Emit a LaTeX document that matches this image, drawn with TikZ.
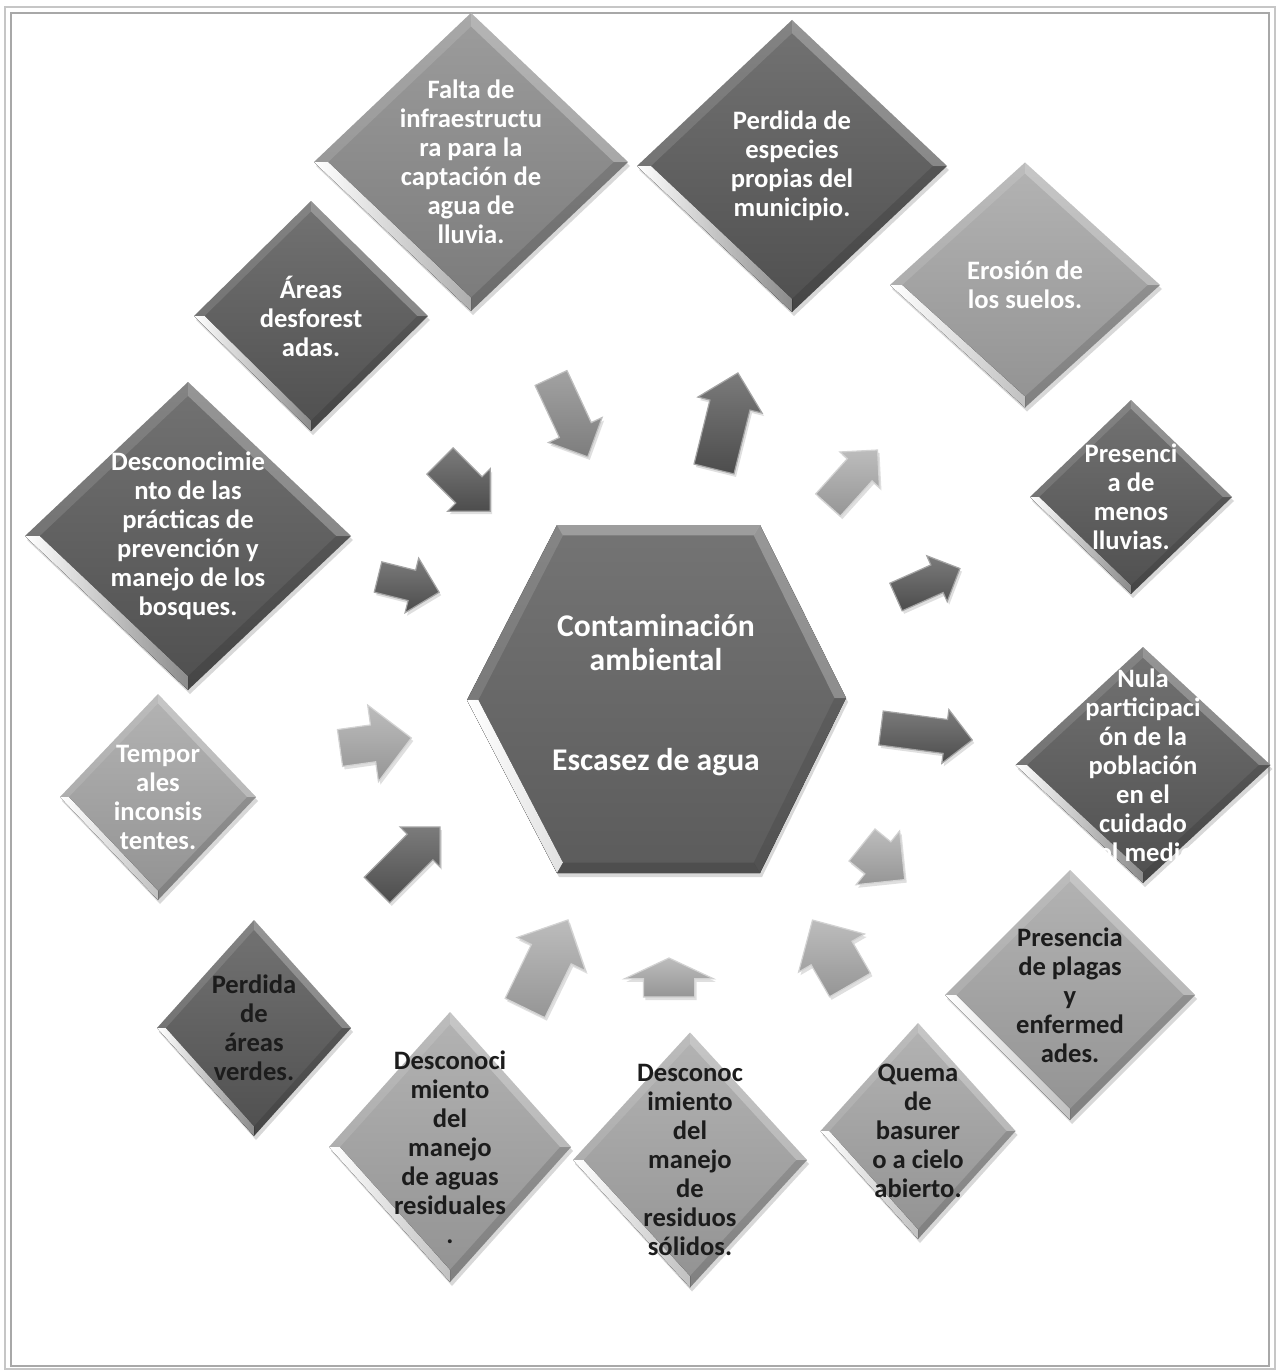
\documentclass[tikz,border=0pt]{standalone}
\usepackage{fontspec}
\setmainfont{Carlito}
\usetikzlibrary{calc,shapes.geometric,shapes.arrows,shadows}

\definecolor{oscuro}{HTML}{5A5A5A}
\definecolor{medio}{HTML}{8B8B8B}
\definecolor{claro}{HTML}{A6A6A6}
\definecolor{grishexa}{HTML}{686868}
\definecolor{marco}{HTML}{C6C6C6}
\definecolor{tinta}{HTML}{1C1C1C}

\tikzset{
	rombo/.style={diamond, inner sep=0pt, outer sep=0pt, drop shadow={opacity=.3, shadow xshift=1pt, shadow yshift=-2pt}},
	txtrombo/.style={align=center, inner sep=0pt, font=\fontsize{13.3}{14.5}\selectfont\bfseries},
	txthexa/.style={align=center, inner sep=0pt, text=white, font=\fontsize{15.8}{17}\selectfont\bfseries},
	flecha/.style={single arrow, inner xsep=0pt, minimum width=0pt, outer sep=0pt, line width=.6pt, drop shadow={opacity=.25, shadow xshift=1pt, shadow yshift=-1.5pt}},
	fosc/.style={top color=oscuro!80!white, bottom color=oscuro!85!black, draw=oscuro!55!white},
	fmed/.style={top color=medio!80!white, bottom color=medio!90!black, draw=medio!55!white},
	fcla/.style={top color=claro!75!white, bottom color=claro!90!black, draw=claro!50!white},
}

\def\rombo[#1/#2](#3)(#4:#5:#6)#7{
	\node[rombo, minimum width=#5, minimum height=#6, top color=#1!85!white, bottom color=#1!88!black] (#3) at (#4) {};
	\fill[left color=white, right color=#1!70!white] (#3.west) -- (#3.south) -- ($(#3.south)!.09!(#3.center)$) -- ($(#3.west)!.09!(#3.center)$) -- cycle;
	\fill[white, opacity=.12] (#3.west) -- (#3.north) -- ($(#3.north)!.09!(#3.center)$) -- ($(#3.west)!.09!(#3.center)$) -- cycle;
	\fill[white, opacity=.25] (#3.north) -- (#3.east) -- ($(#3.east)!.09!(#3.center)$) -- ($(#3.north)!.09!(#3.center)$) -- cycle;
	\fill[black, opacity=.12] (#3.east) -- (#3.south) -- ($(#3.south)!.09!(#3.center)$) -- ($(#3.east)!.09!(#3.center)$) -- cycle;
	\node[txtrombo, text=#2] (#3-txt) at (#3.center) {#7};
}
\def\flecha[#1](#2)(#3:#4:#5:#6:#7){\node[flecha, #1, anchor=tail, rotate=#4, minimum height=#5, inner ysep=#6, single arrow head extend=#7] (#2) at (#3) {};}

\begin{document}
\begin{tikzpicture}[x=0.5pt, y=-0.5pt]
			%%%%% START %%%%%
			
			\useasboundingbox (0,0) rectangle (1277,1370);
			\fill[white] (0,0) rectangle (1277,1370);
			
			\draw[marco, line width=1pt] (5,7) rectangle (1275,1369);
			\draw[marco!85!black, line width=1pt] (11,13) rectangle (1269,1366);
			
			% hexagono central
			\coordinate (hc) at (656,699);
			\coordinate (h1) at (467,700);
			\coordinate (h2) at (557,525);
			\coordinate (h3) at (760,525);
			\coordinate (h4) at (846,698);
			\coordinate (h5) at (760,873);
			\coordinate (h6) at (557,873);
			\foreach \i in {1,...,6} \coordinate (g\i) at ($(hc)!.94!(h\i)$);
			
			\fill[top color=grishexa!92!white, bottom color=grishexa!88!black, drop shadow={opacity=.3, shadow xshift=1pt, shadow yshift=-2pt}] (h1) -- (h2) -- (h3) -- (h4) -- (h5) -- (h6) -- cycle;
			\fill[left color=white, right color=white!80!grishexa] (h6) -- (h1) -- (g1) -- (g6) -- cycle;
			\fill[white, opacity=.12] (h1) -- (h2) -- (g2) -- (g1) -- cycle;
			\fill[white, opacity=.3] (h2) -- (h3) -- (g3) -- (g2) -- cycle;
			\fill[white, opacity=.25] (h3) -- (h4) -- (g4) -- (g3) -- cycle;
			\fill[black, opacity=.1] (h4) -- (h5) -- (g5) -- (g4) -- cycle;
			\fill[black, opacity=.15] (h5) -- (h6) -- (g6) -- (g5) -- cycle;
			\node[txthexa] (hexa-txt) at (656,695) {Contaminación\\ambiental\\[33pt]Escasez de agua};
			
			% rombos
			\rombo[medio/white](falta)(471,162:157pt:149pt){Falta de\\infraestructu\\ra para la\\captación de\\agua de\\lluvia.}
			\rombo[oscuro/white](especies)(792,166:155pt:146pt){Perdida de\\especies\\propias del\\municipio.}
			\rombo[claro/white](erosion)(1025,285:135pt:122.5pt){Erosión de\\los suelos.}
			\rombo[oscuro/white](lluvias)(1131,497:101pt:97pt){Presenci\\a de\\menos\\lluvias.}
			\rombo[oscuro/white](nula)(1143,765:127.5pt:118pt){Nula\\participaci\\ón de la\\población\\en el\\cuidado\\del medio.}
			\rombo[claro/tinta](plagas)(1070,995:125pt:125pt){Presencia\\de plagas\\y\\enfermed\\ades.}
			\rombo[claro/tinta](quema)(918,1131:97.5pt:108pt){Quema\\de\\basurer\\o a cielo\\abierto.}
			\rombo[claro/tinta](solidos)(690,1160:117pt:127.5pt){Desconoc\\imiento\\del\\manejo\\de\\residuos\\sólidos.}
			\rombo[claro/tinta](aguas)(450,1147:121pt:135pt){Desconoci\\miento\\del\\manejo\\de aguas\\residuales\\.}
			\rombo[oscuro/tinta](verdes)(254,1028:97pt:108pt){Perdida\\de\\áreas\\verdes.}
			\rombo[claro/white](temporales)(158,797:98pt:103pt){Tempor\\ales\\inconsis\\tentes.}
			\rombo[oscuro/white](practicas)(188,536:163pt:154pt){Desconocimie\\nto de las\\prácticas de\\prevención y\\manejo de los\\bosques.}
			\rombo[oscuro/white](desforestadas)(311,316:117pt:115pt){Áreas\\desforest\\adas.}
			
			% flechas
			\flecha[fmed](fa)(551,378:-65:43.5pt:8.5pt:6pt)
			\flecha[fosc](fb)(440,461:-45:35.5pt:9pt:5.75pt)
			\flecha[fosc](fc)(378,577:-14:31.5pt:7.5pt:6.25pt)
			\flecha[fcla](fd)(340,748:8:36pt:9pt:10pt)
			\flecha[fosc](fe)(377,890:45:44.5pt:8.75pt:5pt)
			\flecha[fcla](ff)(525,1008:64:49pt:10.75pt:8pt)
			\flecha[fcla, single arrow tip angle=130](fg)(669,997:90:19.5pt:12.5pt:9.5pt)
			\flecha[fcla](fh)(850,985:120:37.5pt:11.5pt:7.25pt)
			\flecha[fcla](fi)(862,845:-39:27.5pt:10pt:7pt)
			\flecha[fosc](fj)(881,728:-7.5:46pt:8.25pt:5pt)
			\flecha[fosc](fk)(896,597:24:35pt:7.25pt:5pt)
			\flecha[fcla](fl)(828,505:48:37pt:8pt:5pt)
			\flecha[fosc](fm)(714,469:76:49.5pt:10pt:6.25pt)
			
			%%%%% END %%%%%
\end{tikzpicture}
\end{document}
